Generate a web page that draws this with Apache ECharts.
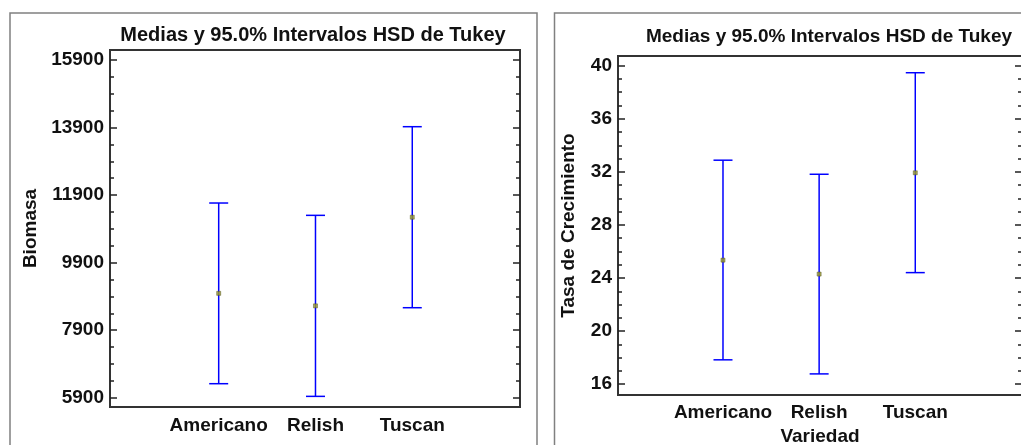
<!DOCTYPE html>
<html>
<head>
<meta charset="utf-8">
<script src="https://cdn.jsdelivr.net/npm/echarts@6/dist/echarts.min.js"></script>
<style>
  html, body { margin: 0; padding: 0; background: #fff; }
  #chart { width: 1021px; height: 445px; }
</style>
</head>
<body>
<div id="chart"></div>
<script>
const categories = ['Americano', 'Relish', 'Tuscan'];

// Biomasa: medias e intervalos HSD
const biomasaMean = [8990, 8620, 11245];
const biomasaLow = [6315, 5940, 8565];
const biomasaHigh = [11665, 11300, 13925];
const biomasaTicks = [5900, 7900, 9900, 11900, 13900, 15900];

// Tasa de crecimiento
const tasaMean = [25.35, 24.3, 31.93];
const tasaLow = [17.84, 16.78, 24.41];
const tasaHigh = [32.88, 31.82, 39.47];
const tasaTicks = [16, 20, 24, 28, 32, 36, 40];

const FONT = '"Liberation Sans", Arial, sans-serif';
const BLUE = '#0000ff';

// 3 minor ticks between each pair of major ticks
function minorTicks(ticks) {
  const out = [];
  for (let i = 0; i < ticks.length - 1; i++) {
    const step = (ticks[i + 1] - ticks[i]) / 4;
    for (let k = 1; k < 4; k++) out.push(ticks[i] + step * k);
  }
  return out;
}

function renderBar(params, api) {
  const x = api.value(0);
  const top = api.coord([x, api.value(2)]);
  const bot = api.coord([x, api.value(1)]);
  const w = 9.5;
  const st = { stroke: BLUE, lineWidth: 1.5 };
  return {
    type: 'group',
    children: [
      { type: 'line', shape: { x1: top[0], y1: top[1], x2: bot[0], y2: bot[1] }, style: st },
      { type: 'line', shape: { x1: top[0] - w, y1: top[1], x2: top[0] + w, y2: top[1] }, style: st },
      { type: 'line', shape: { x1: bot[0] - w, y1: bot[1], x2: bot[0] + w, y2: bot[1] }, style: st },
    ],
  };
}

function tickAxis(grid, min, max, pos, values, len) {
  return {
    gridIndex: grid,
    type: 'value',
    min: min,
    max: max,
    position: pos,
    axisLine: { show: false },
    splitLine: { show: false },
    axisTick: { inside: true, length: len, customValues: values, lineStyle: { color: '#222', width: 1.5 } },
    axisLabel: { show: false },
  };
}

function yAxes(grid, min, max, ticks, name, nameGap) {
  const minors = minorTicks(ticks);
  return [
    {
      gridIndex: grid,
      type: 'value',
      min: min,
      max: max,
      position: 'left',
      name: name,
      nameLocation: 'middle',
      nameGap: nameGap,
      nameTextStyle: { color: '#111', fontSize: 19, fontWeight: 'bold', fontFamily: FONT },
      axisLine: { show: false },
      splitLine: { show: false },
      axisTick: { show: false },
      axisLabel: {
        customValues: ticks,
        formatter: (v) => String(v),
        margin: 6,
        color: '#111',
        fontSize: 19,
        fontWeight: 'bold',
        fontFamily: FONT,
      },
    },
    tickAxis(grid, min, max, 'left', minors, 4),
    tickAxis(grid, min, max, 'left', ticks, 7),
    tickAxis(grid, min, max, 'right', minors, 4),
    tickAxis(grid, min, max, 'right', ticks, 7),
  ];
}

function xAxis(grid, min, max, margin, name) {
  return {
    gridIndex: grid,
    type: 'value',
    min: min,
    max: max,
    name: name,
    nameLocation: 'middle',
    nameGap: 32,
    nameTextStyle: { color: '#111', fontSize: 19, fontWeight: 'bold', fontFamily: FONT },
    axisLine: { show: false },
    axisTick: { show: false },
    splitLine: { show: false },
    axisLabel: {
      customValues: categories.map((c, i) => i + 1),
      formatter: (v) => categories[Math.round(v) - 1],
      margin: margin,
      color: '#111',
      fontSize: 19,
      fontWeight: 'bold',
      fontFamily: FONT,
    },
  };
}

const titleStyle = { color: '#111', fontSize: 20, fontWeight: 'bold', fontFamily: FONT };

const option = {
  animation: false,
  backgroundColor: '#fff',
  title: [
    { text: 'Medias y 95.0% Intervalos HSD de Tukey', left: 313, top: 25, textAlign: 'center', padding: 0, textStyle: titleStyle },
    {
      text: 'Medias y 95.0% Intervalos HSD de Tukey', left: 829, top: 27, textAlign: 'center', padding: 0,
      textStyle: Object.assign({}, titleStyle, { fontSize: 19 }),
    },
  ],
  graphic: [
    { type: 'rect', shape: { x: 10, y: 13, width: 527, height: 460 }, style: { fill: 'none', stroke: '#808080', lineWidth: 1.5 } },
    { type: 'rect', shape: { x: 554.5, y: 13, width: 480, height: 460 }, style: { fill: 'none', stroke: '#808080', lineWidth: 1.5 } },
  ],
  grid: [
    { left: 110, top: 50, width: 410, height: 357, show: true, borderColor: '#333', borderWidth: 2, outerBoundsMode: 'none' },
    { left: 618, top: 56, width: 404, height: 339, show: true, borderColor: '#333', borderWidth: 2, outerBoundsMode: 'none' },
  ],
  xAxis: [
    xAxis(0, -0.123, 4.113, 9, ''),
    xAxis(1, -0.092, 4.11, 8, 'Variedad'),
  ],
  yAxis: [].concat(
    yAxes(0, 5625, 16196, biomasaTicks, 'Biomasa', 70),
    yAxes(1, 15.19, 40.73, tasaTicks, 'Tasa de Crecimiento', 40)
  ),
  series: [
    {
      type: 'custom',
      xAxisIndex: 0,
      yAxisIndex: 0,
      renderItem: renderBar,
      encode: { x: 0, y: [1, 2] },
      data: categories.map((c, i) => [i + 1, biomasaLow[i], biomasaHigh[i]]),
    },
    {
      type: 'scatter',
      xAxisIndex: 0,
      yAxisIndex: 0,
      symbol: 'rect',
      symbolSize: 4,
      itemStyle: { color: '#9a9a28', borderColor: '#4d4d20', borderWidth: 0.6 },
      data: categories.map((c, i) => [i + 1, biomasaMean[i]]),
    },
    {
      type: 'custom',
      xAxisIndex: 1,
      yAxisIndex: 5,
      renderItem: renderBar,
      encode: { x: 0, y: [1, 2] },
      data: categories.map((c, i) => [i + 1, tasaLow[i], tasaHigh[i]]),
    },
    {
      type: 'scatter',
      xAxisIndex: 1,
      yAxisIndex: 5,
      symbol: 'rect',
      symbolSize: 4,
      itemStyle: { color: '#9a9a28', borderColor: '#4d4d20', borderWidth: 0.6 },
      data: categories.map((c, i) => [i + 1, tasaMean[i]]),
    },
  ],
};

const myChart = echarts.init(document.getElementById('chart'));
myChart.setOption(option);
window.addEventListener('resize', () => myChart.resize());
</script>
</body>
</html>
